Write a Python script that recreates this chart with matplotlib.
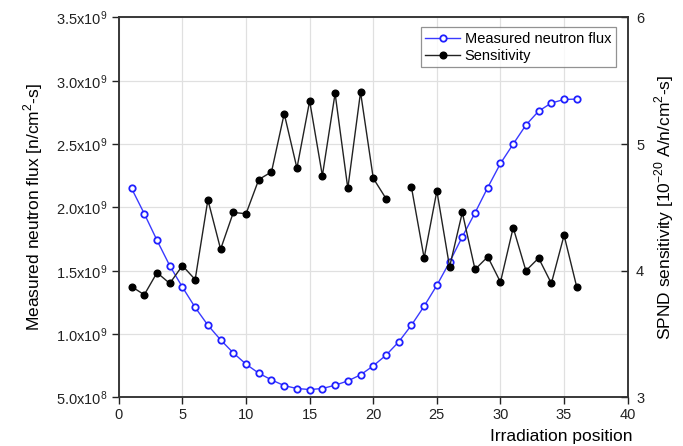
import numpy as np
import matplotlib.pyplot as plt
from matplotlib.ticker import FuncFormatter, MultipleLocator

plt.rcParams["font.family"] = ["Liberation Sans", "DejaVu Sans"]
plt.rcParams["mathtext.fontset"] = "custom"
plt.rcParams["mathtext.rm"] = "Liberation Sans"

# Irradiation positions 1..36
position = np.arange(1, 37)

# Measured neutron flux [n/cm^2-s]
flux = np.array([
    2.15e9, 1.95e9, 1.74e9, 1.54e9, 1.37e9, 1.21e9, 1.07e9, 0.954e9, 0.851e9, 0.762e9,
    0.691e9, 0.638e9, 0.593e9, 0.570e9, 0.562e9, 0.570e9, 0.596e9, 0.630e9, 0.678e9, 0.749e9,
    0.833e9, 0.938e9, 1.07e9, 1.22e9, 1.385e9, 1.568e9, 1.768e9, 1.957e9, 2.157e9, 2.347e9,
    2.50e9, 2.65e9, 2.76e9, 2.824e9, 2.852e9, 2.855e9,
])

# SPND sensitivity [1e-20 A/n/cm^2-s], position 22 not measured
sensitivity = np.array([
    3.875, 3.81, 3.985, 3.90, 4.04, 3.93, 4.56, 4.17, 4.46, 4.45,
    4.72, 4.78, 5.24, 4.81, 5.34, 4.75, 5.40, 4.65, 5.41, 4.73,
    4.57, np.nan, 4.66, 4.10, 4.63, 4.03, 4.46, 4.01, 4.11, 3.91,
    4.34, 4.00, 4.10, 3.90, 4.28, 3.87,
])

fig = plt.figure(figsize=(6.83, 4.46), dpi=100)
ax = fig.add_axes([0.174, 0.109, 0.745, 0.852])
ax2 = ax.twinx()

l1, = ax.plot(position, flux, color="#3a3aff", lw=1.0, marker="o", ms=4.6,
              mfc="white", mec="#2020ff", mew=1.3, label="Measured neutron flux", zorder=3)
l2, = ax2.plot(position, sensitivity, color="#222222", lw=1.0, marker="o", ms=4.8,
               mfc="black", mec="black", label="Sensitivity", zorder=3)

ax.set_xlim(0, 40)
ax.set_ylim(0.5e9, 3.5e9)
ax2.set_ylim(3, 6)
ax.xaxis.set_major_locator(MultipleLocator(5))
ax.yaxis.set_major_locator(MultipleLocator(0.5e9))
ax2.yaxis.set_major_locator(MultipleLocator(1))


def sci_fmt(v, pos):
    if v <= 0:
        return ""
    exp = int(np.floor(np.log10(v) + 1e-9))
    return r"$\mathregular{%.1fx10^{%d}}$" % (v / 10 ** exp, exp)


ax.yaxis.set_major_formatter(FuncFormatter(sci_fmt))

ax.grid(True, color="#e0e0e0", lw=0.9)
ax.set_axisbelow(True)

ax.tick_params(axis="both", direction="out", length=5, width=1, labelsize=10.5, colors="#222222")
ax2.tick_params(axis="y", direction="in", length=5, width=1, labelsize=10.5, colors="#222222")
ax.tick_params(axis="x", pad=3)
ax2.tick_params(axis="y", pad=6)
for a in (ax, ax2):
    for s in a.spines.values():
        s.set_linewidth(1.1)
        s.set_color("#333333")

ax.set_ylabel(r"Measured neutron flux [n/cm$^{\mathregular{2}}$-s]", fontsize=12.5, labelpad=8)
ax2.set_ylabel(r"SPND sensitivity [10$^{\mathregular{-20}}$ A/n/cm$^{\mathregular{2}}$-s]",
               fontsize=12.5, labelpad=6)
fig.text(490 / 683, 1 - 437 / 446, "Irradiation position", fontsize=12.5, ha="left", va="center")

leg = ax.legend(handles=[l1, l2], loc="upper right", bbox_to_anchor=(0.985, 0.985),
                fontsize=10.5, frameon=True, fancybox=False, edgecolor="#777777",
                borderpad=0.3, labelspacing=0.2, handlelength=2.4, handletextpad=0.3,
                borderaxespad=0.3)
leg.get_frame().set_linewidth(0.9)
leg.set_zorder(5)

fig.savefig("out.png", dpi=100)
